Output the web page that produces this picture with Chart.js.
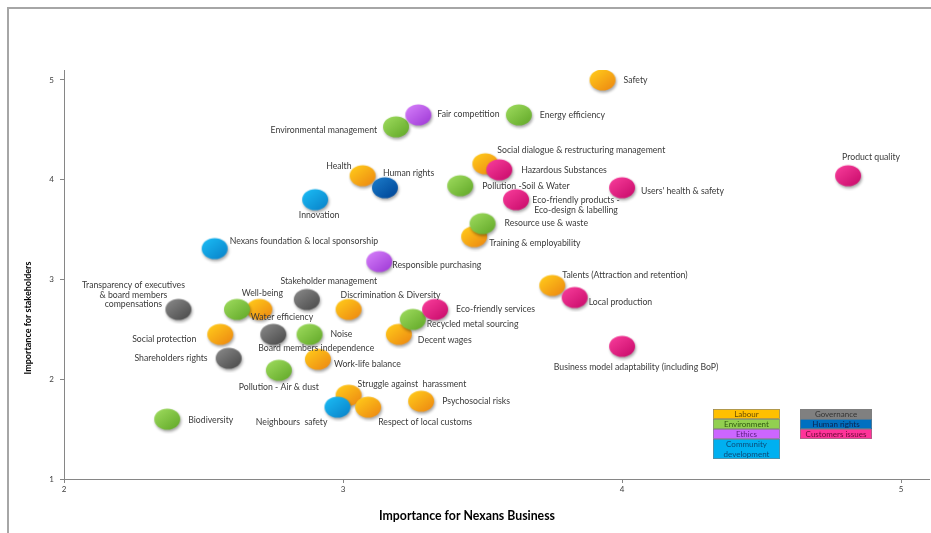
<!DOCTYPE html>
<html>
<head>
<meta charset="utf-8">
<script src="https://cdn.jsdelivr.net/npm/chart.js@4"></script>
<style>
    body { margin: 0; background: #ffffff; }
    #wrap { width: 931px; height: 533px; }
</style>
</head>
<body>
<div id="wrap"><canvas id="materialityChart" width="931" height="533"></canvas></div>
<script>
// one list per issue family: name, business importance (x), stakeholder importance (y)
const labour = [
    { name: "Safety", x: 3.93, y: 5.0 },
    { name: "Social dialogue & restructuring management", x: 3.51, y: 4.16 },
    { name: "Health", x: 3.07, y: 4.04 },
    { name: "Training & employability", x: 3.47, y: 3.43 },
    { name: "Talents (Attraction and retention)", x: 3.75, y: 2.94 },
    { name: "Well-being", x: 2.70, y: 2.70 },
    { name: "Discrimination & Diversity", x: 3.02, y: 2.70 },
    { name: "Social protection", x: 2.56, y: 2.45 },
    { name: "Decent wages", x: 3.20, y: 2.45 },
    { name: "Work-life balance", x: 2.91, y: 2.20 },
    { name: "Struggle against  harassment", x: 3.02, y: 1.84 },
    { name: "Respect of local customs", x: 3.09, y: 1.72 },
    { name: "Psychosocial risks", x: 3.28, y: 1.78 },
];

const environment = [
    { name: "Energy efficiency", x: 3.63, y: 4.65 },
    { name: "Environmental management", x: 3.19, y: 4.53 },
    { name: "Pollution -Soil & Water", x: 3.42, y: 3.94 },
    { name: "Resource use & waste", x: 3.50, y: 3.56 },
    { name: "Water efficiency", x: 2.62, y: 2.70 },
    { name: "Noise", x: 2.88, y: 2.45 },
    { name: "Recycled metal sourcing", x: 3.25, y: 2.60 },
    { name: "Pollution - Air & dust", x: 2.77, y: 2.09 },
    { name: "Biodiversity", x: 2.37, y: 1.60 },
];

const ethics = [
    { name: "Fair competition", x: 3.27, y: 4.65 },
    { name: "Responsible purchasing", x: 3.13, y: 3.18 },
];

const community = [
    { name: "Innovation", x: 2.90, y: 3.80 },
    { name: "Nexans foundation & local sponsorship", x: 2.54, y: 3.31 },
    { name: "Neighbours  safety", x: 2.98, y: 1.72 },
];

const governance = [
    { name: "Stakeholder management", x: 2.87, y: 2.80 },
    { name: "Transparency of executives\n& board members\ncompensations", x: 2.41, y: 2.70 },
    { name: "Board members independence", x: 2.75, y: 2.45 },
    { name: "Shareholders rights", x: 2.59, y: 2.21 },
];

const humanRights = [
    { name: "Human rights", x: 3.15, y: 3.92 },
];

const customers = [
    { name: "Product quality", x: 4.81, y: 4.04 },
    { name: "Hazardous Substances", x: 3.56, y: 4.10 },
    { name: "Users' health & safety", x: 4.00, y: 3.92 },
    { name: "Eco-friendly products -\nEco-design & labelling", x: 3.62, y: 3.80 },
    { name: "Eco-friendly services", x: 3.33, y: 2.70 },
    { name: "Local production", x: 3.83, y: 2.82 },
    { name: "Business model adaptability (including BoP)", x: 4.00, y: 2.33 },
];

const xTicks = [2, 3, 4, 5];
const yTicks = [1, 2, 3, 4, 5];

const leftLegend = ["Labour", "Environment", "Ethics", "Community\ndevelopment"];
const rightLegend = ["Governance", "Human rights", "Customers issues"];

// where each label sits relative to its bubble: [dx, dy, align]
const labelPlacement = {
    "Safety": [21, 0, "left"],
    "Social dialogue & restructuring management": [12, -14, "left"],
    "Health": [-11, -10, "right"],
    "Training & employability": [15, 7, "left"],
    "Talents (Attraction and retention)": [10, -10, "left"],
    "Well-being": [3, -16, "center"],
    "Discrimination & Diversity": [-8, -14, "left"],
    "Social protection": [-24, 5, "right"],
    "Decent wages": [19, 6, "left"],
    "Work-life balance": [16, 5, "left"],
    "Struggle against  harassment": [9, -11, "left"],
    "Respect of local customs": [10, 15, "left"],
    "Psychosocial risks": [21, 0, "left"],
    "Energy efficiency": [21, 0, "left"],
    "Environmental management": [-19, 3, "right"],
    "Pollution -Soil & Water": [22, 0, "left"],
    "Resource use & waste": [22, 0, "left"],
    "Water efficiency": [45, 8, "center"],
    "Noise": [21, 0, "left"],
    "Recycled metal sourcing": [14, 5, "left"],
    "Pollution - Air & dust": [0, 17, "center"],
    "Biodiversity": [21, 1, "left"],
    "Fair competition": [19, -1, "left"],
    "Responsible purchasing": [13, 4, "left"],
    "Innovation": [4, 16, "center"],
    "Nexans foundation & local sponsorship": [15, -7, "left"],
    "Neighbours  safety": [-10, 15, "right"],
    "Stakeholder management": [22, -18, "center"],
    "Transparency of executives\n& board members\ncompensations": [-45, -24, "center"],
    "Board members independence": [-15, 14, "left"],
    "Shareholders rights": [-21, 0, "right"],
    "Human rights": [-2, -15, "left"],
    "Product quality": [23, -19, "center"],
    "Hazardous Substances": [22, 0, "left"],
    "Users' health & safety": [19, 3, "left"],
    "Eco-friendly products -\nEco-design & labelling": [60, 1, "center"],
    "Eco-friendly services": [21, 0, "left"],
    "Local production": [14, 5, "left"],
    "Business model adaptability (including BoP)": [14, 21, "center"],
};

const families = [
    { label: "Labour", points: labour, light: "#ffc81a", dark: "#ee8c12", fill: "#ffc000", text: "#6b4d00" },
    { label: "Environment", points: environment, light: "#9ad85a", dark: "#66ac2c", fill: "#92d050", text: "#2f5a10" },
    { label: "Ethics", points: ethics, light: "#d27af8", dark: "#a23ed8", fill: "#cc66ff", text: "#5a1a80" },
    { label: "Community", points: community, light: "#1ab8f2", dark: "#0a86cc", fill: "#00b0f0", text: "#0b4a78" },
    { label: "Governance", points: governance, light: "#858585", dark: "#4e4e4e", fill: "#808080", text: "#333333" },
    { label: "Human rights", points: humanRights, light: "#1a78c6", dark: "#00489a", fill: "#0070c0", text: "#0a2450" },
    { label: "Customers", points: customers, light: "#f53a98", dark: "#cc0e6e", fill: "#ff3399", text: "#6a0a36" },
];

const textFont = "Lato, 'DejaVu Sans', sans-serif";

function bubbleImage(light, dark) {
    const c = document.createElement("canvas");
    c.width = 34;
    c.height = 30;
    const g = c.getContext("2d");
    const cx = 17, cy = 15, rx = 13, ry = 10.5;
    g.save();
    g.shadowColor = "rgba(0, 0, 0, 0.35)";
    g.shadowBlur = 3;
    g.shadowOffsetX = 1;
    g.shadowOffsetY = 2;
    const grad = g.createLinearGradient(cx - rx * 0.6, cy - ry, cx + rx * 0.6, cy + ry);
    grad.addColorStop(0, light);
    grad.addColorStop(1, dark);
    g.fillStyle = grad;
    g.beginPath();
    g.ellipse(cx, cy, rx, ry, 0, 0, Math.PI * 2);
    g.fill();
    g.restore();
    return c;
}

const frameAndTitles = {
    id: "frameAndTitles",
    beforeDraw(chart) {
        const ctx = chart.ctx;
        ctx.save();
        ctx.strokeStyle = "#a6a6a6";
        ctx.lineWidth = 2;
        ctx.beginPath();
        ctx.moveTo(8, 533);
        ctx.lineTo(8, 8);
        ctx.lineTo(931, 8);
        ctx.stroke();
        ctx.restore();
    },
    afterDraw(chart) {
        const ctx = chart.ctx;
        ctx.save();
        ctx.fillStyle = "#000000";
        ctx.textAlign = "center";
        ctx.textBaseline = "middle";
        ctx.font = "bold 12.3px " + textFont;
        ctx.fillText("Importance for Nexans Business", 467, 516);
        ctx.translate(28, 318);
        ctx.rotate(-Math.PI / 2);
        ctx.font = "bold 9px " + textFont;
        ctx.fillText("Importance for stakeholders", 0, 0);
        ctx.restore();
    },
};

const pointLabels = {
    id: "pointLabels",
    afterDatasetsDraw(chart) {
        const ctx = chart.ctx;
        ctx.save();
        ctx.font = "8.7px " + textFont;
        ctx.fillStyle = "#3a3a3a";
        ctx.textBaseline = "middle";
        chart.data.datasets.forEach((dataset, di) => {
            const meta = chart.getDatasetMeta(di);
            dataset.data.forEach((point, i) => {
                const place = labelPlacement[point.name] || [16, 0, "left"];
                const el = meta.data[i];
                const lines = point.name.split("\n");
                ctx.textAlign = place[2];
                lines.forEach((line, li) => {
                    ctx.fillText(line, el.x + place[0], el.y + place[1] + li * 9.5);
                });
            });
        });
        ctx.restore();
    },
};

function drawLegendColumn(ctx, names, left, width) {
    let top = 409;
    names.forEach((name) => {
        const fam = families.find((f) => name.startsWith(f.label)) || families[6];
        const lines = name.split("\n");
        const h = lines.length * 10;
        ctx.fillStyle = fam.fill;
        ctx.fillRect(left, top, width, h);
        ctx.strokeStyle = "#7f7f7f";
        ctx.lineWidth = 0.6;
        ctx.strokeRect(left + 0.5, top + 0.5, width - 1, h - 1);
        ctx.fillStyle = fam.text;
        lines.forEach((line, li) => {
            ctx.fillText(line, left + width / 2, top + 5 + li * 10);
        });
        top += h;
    });
}

const legendBoxes = {
    id: "legendBoxes",
    afterDraw(chart) {
        const ctx = chart.ctx;
        ctx.save();
        ctx.font = "8px " + textFont;
        ctx.textAlign = "center";
        ctx.textBaseline = "middle";
        drawLegendColumn(ctx, leftLegend, 713, 67);
        drawLegendColumn(ctx, rightLegend, 800, 72);
        ctx.restore();
    },
};

const datasets = families.map((fam, index) => ({
    label: fam.label,
    data: fam.points,
    pointStyle: bubbleImage(fam.light, fam.dark),
    pointRadius: 12,
    pointHoverRadius: 12,
    order: families.length - index,
}));

const axisColor = "#868686";

new Chart(document.getElementById("materialityChart"), {
    type: "scatter",
    data: { datasets: datasets },
    plugins: [frameAndTitles, pointLabels, legendBoxes],
    options: {
        responsive: false,
        animation: false,
        devicePixelRatio: 1,
        layout: { autoPadding: false, padding: { left: 0, top: 70, right: 2, bottom: 0 } },
        plugins: {
            legend: { display: false },
            tooltip: { enabled: false },
        },
        scales: {
            x: {
                type: "linear",
                min: 2,
                max: 5.1,
                afterBuildTicks: (scale) => {
                    scale.ticks = xTicks.map((v) => ({ value: v }));
                },
                afterFit: (scale) => {
                    scale.height = 54;
                    scale.paddingLeft = 0;
                    scale.paddingRight = 0;
                },
                ticks: {
                    color: "#404040",
                    font: { size: 8, family: textFont },
                    padding: 2,
                    maxRotation: 0,
                },
                grid: { drawOnChartArea: false, drawTicks: true, tickLength: 4, color: axisColor },
                border: { color: axisColor, width: 1 },
            },
            y: {
                type: "linear",
                min: 1,
                max: 5.1,
                afterBuildTicks: (scale) => {
                    scale.ticks = yTicks.map((v) => ({ value: v }));
                },
                afterFit: (scale) => {
                    scale.width = 64;
                    scale.paddingTop = 0;
                    scale.paddingBottom = 0;
                },
                ticks: {
                    color: "#404040",
                    font: { size: 8, family: textFont },
                    padding: 6,
                },
                grid: { drawOnChartArea: false, drawTicks: true, tickLength: 4, color: axisColor },
                border: { color: axisColor, width: 1 },
            },
        },
    },
});
</script>
</body>
</html>
